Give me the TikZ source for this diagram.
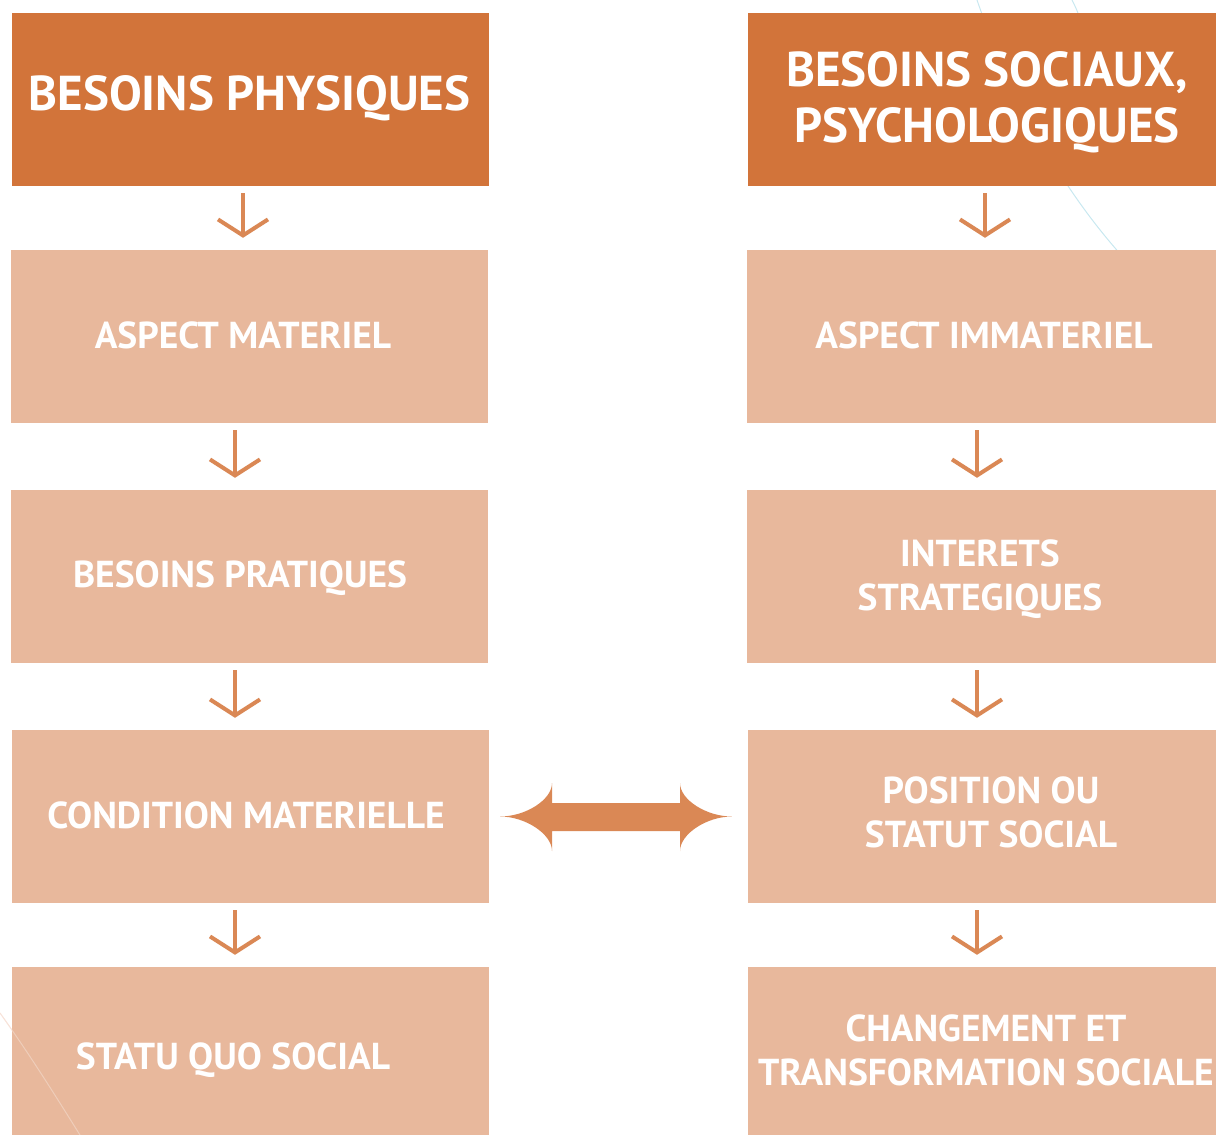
\documentclass[tikz,border=0pt]{standalone}
\usepackage{fontspec}
\setmainfont{PT Sans}
\usetikzlibrary{arrows.meta}
\definecolor{dark}{RGB}{210,116,58}
\definecolor{light}{RGB}{232,184,156}
\definecolor{arr}{RGB}{218,136,85}
\definecolor{faintblue}{RGB}{200,232,240}
\definecolor{faintpink}{RGB}{244,214,200}
\tikzset{
  hbox/.style={rectangle, fill=dark, inner sep=0, minimum width=477pt, minimum height=173pt},
  lbox/.style={rectangle, fill=light, inner sep=0, minimum width=477pt, minimum height=173pt},
  htext/.style={text=white, font=\bfseries\fontsize{49}{56}\selectfont, align=center, inner sep=0},
  btext/.style={text=white, font=\bfseries\fontsize{37.5}{44}\selectfont, align=center, inner sep=0},
  darr/.style={draw=arr, line width=4pt, -{Straight Barb[length=16pt,width=50pt]}, shorten <=7pt, shorten >=12pt},
}
\begin{document}
\begin{tikzpicture}[x=1pt,y=-1pt]
\useasboundingbox (0,0) rectangle (1216,1135);
% faint background arcs
\draw[faintblue, line width=1pt] (977,0) .. controls (1025,140) and (1110,270) .. (1216,337);
\draw[faintblue, line width=1pt] (1072,0) .. controls (1075,6) and (1077,10) .. (1079,16);
\draw[faintpink, line width=1pt] (0,1013) .. controls (30,1055) and (55,1095) .. (80,1135);
% left column
\node[hbox] (h1) at (250.5,99.5) {};
\node[lbox] (b1) at (249.5,336.5) {};
\node[lbox] (b2) at (249.5,576.5) {};
\node[lbox] (b3) at (250.5,816.5) {};
\node[lbox, minimum height=168pt] (b4) at (250.5,1051) {};
% right column
\node[hbox, minimum width=468pt] (h2) at (982,99.5) {};
\node[lbox, minimum width=469pt] (r1) at (981.5,336.5) {};
\node[lbox, minimum width=469pt] (r2) at (981.5,576.5) {};
\node[lbox, minimum width=468pt] (r3) at (982,816.5) {};
\node[lbox, minimum width=468pt, minimum height=168pt] (r4) at (982,1051) {};
\draw[white, opacity=0.3, line width=1pt] (0,1013) .. controls (30,1055) and (55,1095) .. (80,1135);
% texts
\node[htext] (th1) at (249.5,98) {BESOINS PHYSIQUES};
\node[btext] (tb1) at (243,335) {ASPECT MATERIEL};
\node[btext] (tb2) at (240,578) {BESOINS PRATIQUES};
\node[btext] (tb3) at (246,815) {CONDITION MATERIELLE};
\node[btext] (tb4) at (233,1060) {STATU QUO SOCIAL};
\node[htext] (th2) at (987,102.5) {BESOINS SOCIAUX,\\PSYCHOLOGIQUES};
\node[btext] (tr1) at (984,335) {ASPECT IMMATERIEL};
\node[btext] (tr2) at (980,579.5) {INTERETS\\STRATEGIQUES};
\node[btext] (tr3) at (991,812.5) {POSITION OU\\STATUT SOCIAL};
\node[btext] (tr4) at (986,1050) {CHANGEMENT ET\\TRANSFORMATION SOCIALE};
% down arrows
\draw[darr] ([xshift=-7.5pt]h1.south) -- ([xshift=-6.5pt]b1.north);
\draw[darr] ([xshift=-14.5pt]b1.south) -- ([xshift=-14.5pt]b2.north);
\draw[darr] ([xshift=-14.5pt]b2.south) -- ([xshift=-15.5pt]b3.north);
\draw[darr] ([xshift=-15.5pt]b3.south) -- ([xshift=-15.5pt]b4.north);
\draw[darr] ([xshift=3pt]h2.south) -- ([xshift=3.5pt]r1.north);
\draw[darr] ([xshift=-4.5pt]r1.south) -- ([xshift=-4.5pt]r2.north);
\draw[darr] ([xshift=-4.5pt]r2.south) -- ([xshift=-5pt]r3.north);
\draw[darr] ([xshift=-5pt]r3.south) -- ([xshift=-5pt]r4.north);
% double arrow between the rows
\coordinate (dl) at ([xshift=11pt]b3.east);
\coordinate (dr) at ([xshift=-16pt]r3.west);
\fill[arr] (dl) .. controls ++(25,0) and (552,800) .. (552,783) -- (552,803) -- (680,803) -- (680,783)
  .. controls (680,800) and ([xshift=-25pt]dr) .. (dr)
  .. controls ([xshift=-25pt]dr) and (680,834) .. (680,851) -- (680,831) -- (552,831) -- (552,851)
  .. controls (552,834) and ([xshift=25pt]dl) .. (dl) -- cycle;
\end{tikzpicture}
\end{document}
